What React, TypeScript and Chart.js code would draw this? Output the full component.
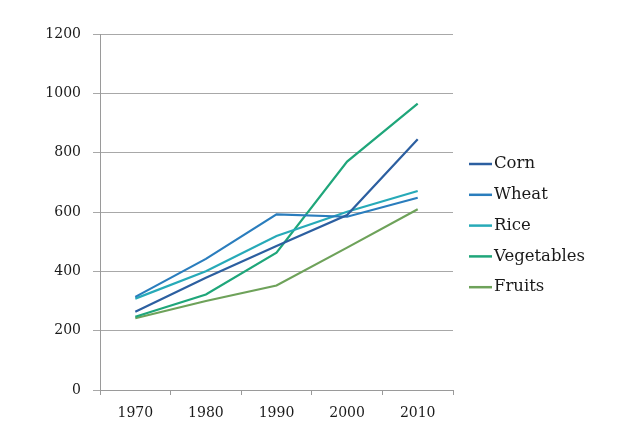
import React, { useEffect, useRef } from "react";
import { Chart, registerables } from "chart.js";

Chart.register(...registerables);

const years = ["1970", "1980", "1990", "2000", "2010"];
const corn = [264, 378, 485, 590, 845];
const wheat = [314, 442, 592, 584, 648];
const rice = [308, 400, 519, 601, 671];
const vegetables = [247, 322, 463, 770, 965];
const fruits = [242, 300, 352, 480, 609];
const yTicks = [0, 200, 400, 600, 800, 1000, 1200];

const seriesNames = ["Corn", "Wheat", "Rice", "Vegetables", "Fruits"];
const seriesColors = ["#2c5fa0", "#2a7dbd", "#27aab8", "#1fa67a", "#6ea25a"];

const FONT = "'DejaVu Serif', serif";

const legendPlugin = {
  id: "sideLegend",
  afterDraw(chart: any) {
    const ctx = chart.ctx;
    const area = chart.chartArea;
    const x0 = area.right + 16;
    const y0 = 164;
    const step = 30.8;
    ctx.save();
    chart.data.datasets.forEach((ds: any, i: number) => {
      const y = y0 + i * step;
      ctx.strokeStyle = ds.borderColor;
      ctx.lineWidth = 2.5;
      ctx.beginPath();
      ctx.moveTo(x0, y);
      ctx.lineTo(x0 + 23, y);
      ctx.stroke();
      ctx.fillStyle = "#1a1a1a";
      ctx.font = `16.5px ${FONT}`;
      ctx.textBaseline = "middle";
      ctx.textAlign = "left";
      ctx.fillText(ds.label, x0 + 25, y);
    });
    ctx.restore();
  },
};

export default function App() {
  const ref = useRef<HTMLCanvasElement | null>(null);
  useEffect(() => {
    if (!ref.current) return;
    const data = [corn, wheat, rice, vegetables, fruits];
    const chart = new Chart(ref.current, {
      type: "line",
      data: {
        labels: years,
        datasets: seriesNames.map((n, i) => ({
          label: n,
          data: data[i],
          borderColor: seriesColors[i],
          backgroundColor: seriesColors[i],
          borderWidth: 2.2,
          pointRadius: 0,
          tension: 0,
        })),
      },
      options: {
        animation: false,
        responsive: false,
        maintainAspectRatio: false,
        layout: { padding: { left: 0, right: 176, top: 34, bottom: 0 } },
        plugins: { legend: { display: false }, tooltip: { enabled: false } },
        scales: {
          x: {
            type: "category",
            offset: true,
            grid: {
              offset: true,
              drawOnChartArea: false,
              drawTicks: true,
              tickLength: 5,
              color: "#9a9a9a",
            },
            border: { color: "#9a9a9a", width: 1 },
            ticks: {
              font: { family: FONT, size: 14 },
              color: "#1a1a1a",
              padding: 10,
              maxRotation: 0,
            },
            afterFit: (s: any) => {
              s.height = 45;
            },
          },
          y: {
            min: 0,
            max: 1200,
            afterBuildTicks: (s: any) => {
              s.ticks = yTicks.map((v) => ({ value: v }));
            },
            grid: {
              color: "#a8a8a8",
              tickLength: 7,
              lineWidth: 1,
            },
            border: { color: "#9a9a9a", width: 1 },
            ticks: {
              font: { family: FONT, size: 14 },
              color: "#1a1a1a",
              padding: 12,
              callback: (v: any) => String(v),
            },
            afterFit: (s: any) => {
              s.width = 100;
            },
          },
        },
      },
      plugins: [legendPlugin],
    } as any);
    return () => chart.destroy();
  }, []);
  return (
    <div style={{ position: "fixed", left: 0, top: 0, width: 629, height: 435, background: "#fff" }}>
      <canvas ref={ref} width={629} height={435} style={{ width: 629, height: 435 }} />
    </div>
  );
}
